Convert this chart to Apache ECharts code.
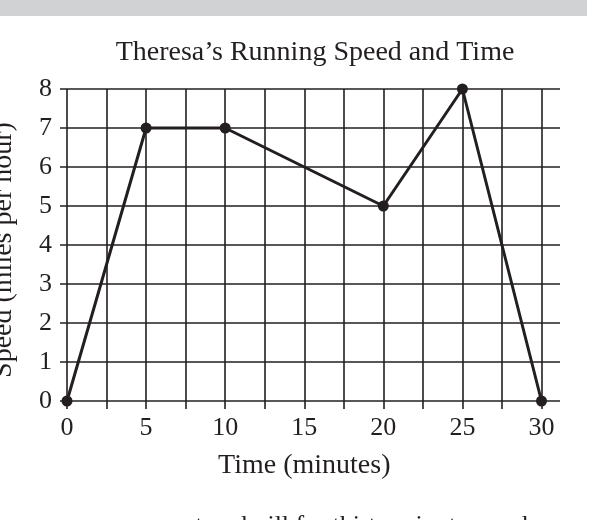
<!DOCTYPE html>
<html>
<head>
<meta charset="utf-8">
<script src="https://cdn.jsdelivr.net/npm/echarts@6/dist/echarts.min.js"></script>
<style>
  html, body { margin: 0; padding: 0; background: #ffffff; }
  #chart { width: 593px; height: 520px; }
</style>
</head>
<body>
<div id="chart"></div>
<script>
// data
var times = [0, 5, 10, 20, 25, 30]
var speeds = [0, 7, 7, 5, 8, 0]
var titleText = 'Theresa\u2019s Running Speed and Time'
var xName = 'Time (minutes)'
var yName = 'Speed (miles per hour)'
var belowText = 'ran on a treadmill for thirty minutes, and'

var ink = '#231f20'
var serif = 'Liberation Serif'

var myChart = echarts.init(document.getElementById('chart'))

var points = []
for (var i = 0; i < times.length; i++) {
  points.push([times[i], speeds[i]])
}

var option = {
  backgroundColor: '#ffffff',
  animation: false,
  grid: [
    // wider grid: horizontal rules + y labels
    { left: 60, top: 89, width: 500, height: 312, containLabel: false },
    // data grid
    { left: 67, top: 89, width: 474.5, height: 312, containLabel: false }
  ],
  xAxis: [
    { gridIndex: 0, type: 'value', min: 0, max: 1, show: false },
    {
      gridIndex: 1,
      type: 'value',
      min: 0,
      max: 30,
      interval: 2.5,
      name: xName,
      nameLocation: 'middle',
      nameGap: 51,
      nameTextStyle: { fontFamily: serif, fontSize: 28, color: ink },
      axisLine: { show: false },
      axisTick: { show: true, length: 8, lineStyle: { color: ink, width: 1.6 } },
      axisLabel: {
        margin: 14,
        fontFamily: serif,
        fontSize: 26,
        color: ink,
        formatter: function(value) {
          return value % 5 === 0 ? String(value) : ''
        }
      },
      splitLine: { show: true, lineStyle: { color: ink, width: 1.6 } }
    }
  ],
  yAxis: [
    {
      gridIndex: 0,
      type: 'value',
      min: 0,
      max: 8,
      interval: 1,
      axisLine: { show: false },
      axisTick: { show: false },
      axisLabel: { margin: 8, fontFamily: serif, fontSize: 26, color: ink },
      splitLine: { show: true, lineStyle: { color: ink, width: 1.6 } }
    },
    { gridIndex: 1, type: 'value', min: 0, max: 8, show: false }
  ],
  graphic: [
    {
      type: 'rect',
      shape: { x: 0, y: 0, width: 587, height: 16 },
      style: { fill: '#d1d2d4' },
      silent: true
    },
    {
      type: 'text',
      x: 315,
      y: 53,
      style: {
        text: titleText,
        fontFamily: serif,
        fontSize: 28,
        fill: ink,
        textAlign: 'center',
        textVerticalAlign: 'middle'
      }
    },
    {
      type: 'text',
      x: 4,
      y: 250,
      rotation: Math.PI / 2,
      style: {
        text: yName,
        fontFamily: serif,
        fontSize: 28,
        fill: ink,
        textAlign: 'center',
        textVerticalAlign: 'middle'
      }
    },
    {
      // line of question text below the graph, cut off by the picture edge
      type: 'text',
      x: 105,
      y: 513,
      style: {
        text: belowText,
        fontFamily: serif,
        fontSize: 26,
        fill: ink,
        textAlign: 'left',
        textVerticalAlign: 'top'
      }
    }
  ],
  series: [
    {
      type: 'line',
      xAxisIndex: 1,
      yAxisIndex: 1,
      data: points,
      symbol: 'circle',
      symbolSize: 11,
      lineStyle: { color: ink, width: 3 },
      itemStyle: { color: ink },
      z: 5
    }
  ]
}

myChart.setOption(option)
window.addEventListener('resize', function() {
  myChart.resize()
})
</script>
</body>
</html>
